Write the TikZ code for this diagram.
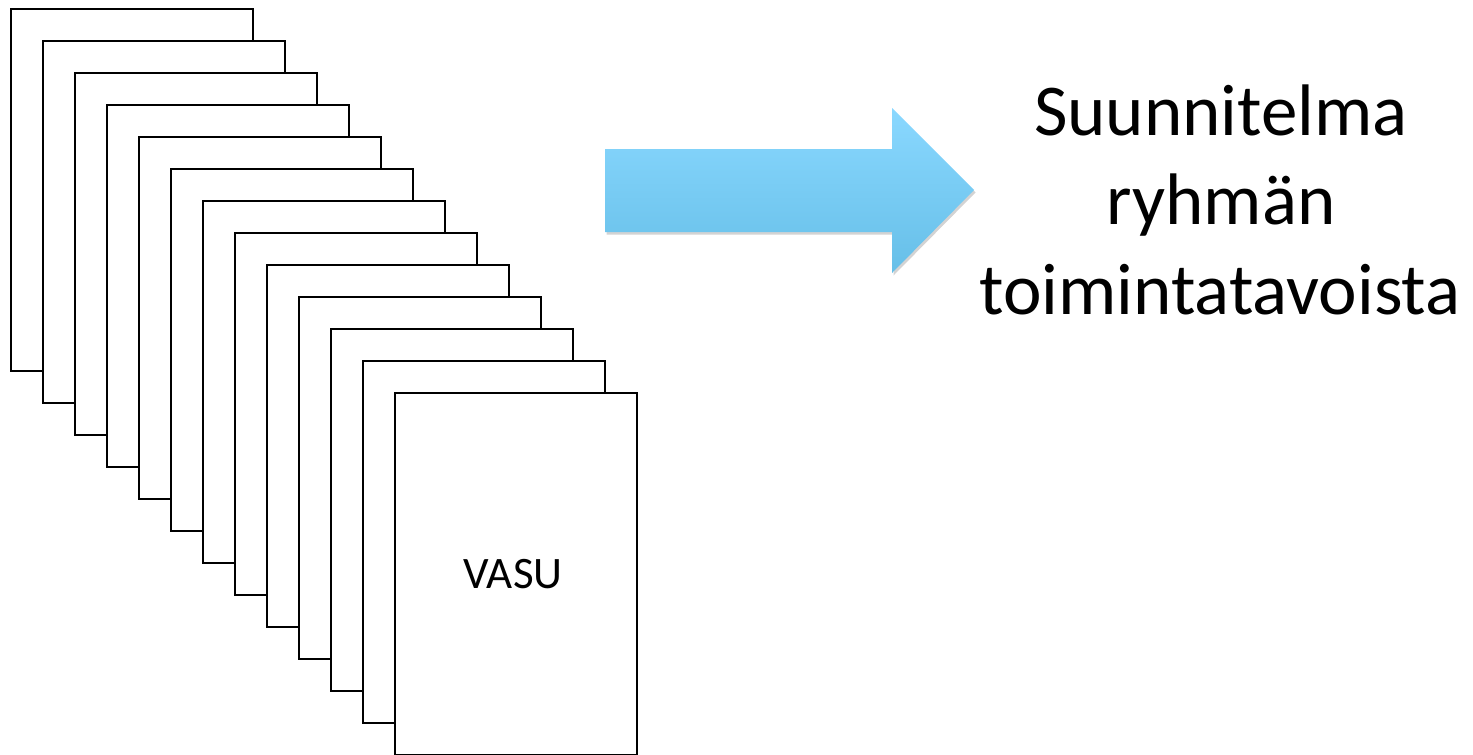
\documentclass[tikz,border=0pt]{standalone}
\usepackage{fontspec}
\setmainfont{Carlito}
\usetikzlibrary{shadows}
\definecolor{arrtop}{HTML}{8AD8FF}
\definecolor{arrbot}{HTML}{66BFE8}
\tikzset{
  page/.style={draw=black, fill=white, line width=2pt, minimum width=242pt, minimum height=362pt, inner sep=0pt, outer sep=0pt},
  bigtext/.style={font=\fontsize{73}{90}\selectfont, align=center, inner sep=0pt},
  pagetext/.style={font=\fontsize{45}{54}\selectfont, inner sep=0pt},
  bluearrow/.style={top color=arrtop, bottom color=arrbot, draw=none,
    drop shadow={opacity=0.35, shadow xshift=1.5pt, shadow yshift=-2.5pt}}
}
\begin{document}
\begin{tikzpicture}[x=1pt, y=-1pt]
\useasboundingbox (0,0) rectangle (1473,755);
\foreach \i in {0,...,12} {
  \node[page] (p\i) at ({132+32*\i},{190+32*\i}) {};
}
\node[pagetext] (vasu) at ([xshift=-3pt]p12.center) {VASU};
\path[bluearrow] (605,149) -- (892,149) -- (892,108) -- (974,190) -- (892,273) -- (892,232) -- (605,232) -- cycle;
\node[bigtext, anchor=base] (l1) at (1221,135) {Suunnitelma};
\node[bigtext, anchor=base] (l2) at (1221,224) {ryhmän};
\node[bigtext, anchor=base] (l3) at (1220,314) {toimintatavoista};
\end{tikzpicture}
\end{document}
